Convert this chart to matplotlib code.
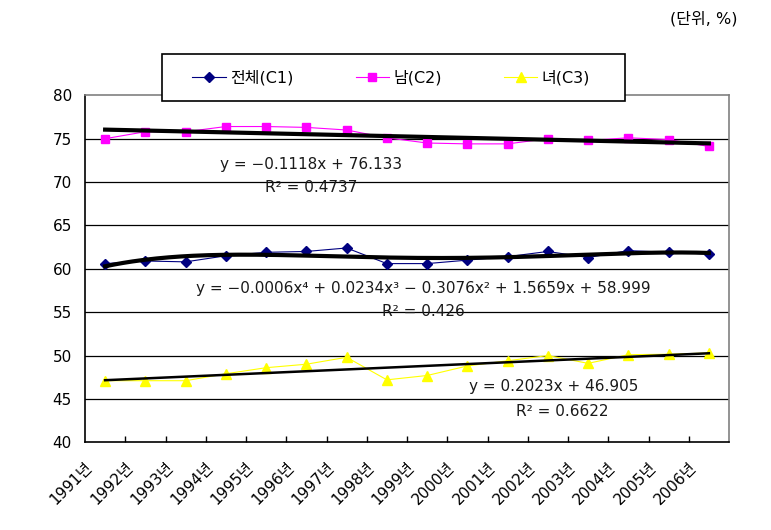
import numpy as np
import matplotlib
matplotlib.use('Agg')
import matplotlib.pyplot as plt
from matplotlib.patches import Rectangle
from matplotlib.transforms import ScaledTranslation

years = ['1991년', '1992년', '1993년', '1994년', '1995년', '1996년', '1997년', '1998년',
         '1999년', '2000년', '2001년', '2002년', '2003년', '2004년', '2005년', '2006년']
total_c1 = [60.6, 60.9, 60.8, 61.5, 61.9, 62.0, 62.4, 60.6,
            60.6, 61.0, 61.4, 62.0, 61.3, 62.1, 61.9, 61.7]
male_c2 = [75.0, 75.8, 75.8, 76.4, 76.4, 76.3, 76.0, 75.1,
           74.5, 74.4, 74.4, 75.0, 74.8, 75.1, 74.9, 74.1]
female_c3 = [47.1, 47.1, 47.1, 47.9, 48.6, 49.0, 49.8, 47.2,
             47.7, 48.8, 49.4, 50.0, 49.1, 50.1, 50.15, 50.3]
eq_c1 = 'y = \u22120.0006x\u2074 + 0.0234x\u00b3 \u2212 0.3076x\u00b2 + 1.5659x + 58.999'
r2_c1 = 'R\u00b2 = 0.426'
eq_c2 = 'y = \u22120.1118x + 76.133'
r2_c2 = 'R\u00b2 = 0.4737'
eq_c3 = 'y = 0.2023x + 46.905'
r2_c3 = 'R\u00b2 = 0.6622'

plt.rcParams['font.family'] = ['DejaVu Sans', 'Noto Sans CJK KR']

W, H = 771, 530
fig = plt.figure(figsize=(W / 100, H / 100), dpi=100)
ax = fig.add_axes([85 / W, 1 - 442.3 / H, (729 - 85) / W, (442.3 - 95.3) / H])

x = np.arange(1, len(years) + 1)

for v in [45, 50, 55, 60, 65, 70, 75]:
    ax.axhline(v, color='black', lw=0.9, zorder=1)

l1, = ax.plot(x, total_c1, color='#000080', lw=0.8, marker='D', ms=5, zorder=3)
l2, = ax.plot(x, male_c2, color='#FF00FF', lw=0.8, marker='s', ms=6, zorder=3)
l3, = ax.plot(x, female_c3, color='#FFFF00', lw=0.8, marker='^', ms=7, zorder=3)

# trend lines
xs = np.linspace(1, 16, 200)
ax.plot(xs, np.polyval(np.polyfit(x, total_c1, 4), xs), color='black', lw=3, zorder=4)
ax.plot(xs, np.polyval(np.polyfit(x, male_c2, 1), xs), color='black', lw=3, zorder=4)
ax.plot(xs, np.polyval(np.polyfit(x, female_c3, 1), xs), color='black', lw=1.8, zorder=4)

txt = dict(fontsize=11, color='#1a1a1a', ha='center', va='center', family='DejaVu Sans')
def put(px, py, s):
    fig.text(px / W, 1 - py / H, s, **txt)
put(311, 165, eq_c2)
put(311, 187, r2_c2)
put(423, 289, eq_c1)
put(423, 311, r2_c1)
put(554, 387, eq_c3)
put(562, 411, r2_c3)

ax.set_xlim(0.5, 16.5)
ax.set_ylim(40, 80)
ax.set_yticks(range(40, 81, 5))
ax.tick_params(axis='y', length=0, pad=9.5, labelsize=11)
ax.set_xticks(x)
ax.set_xticklabels(years, rotation=45, ha='right', rotation_mode='anchor', fontsize=11)
ax.set_xticks(np.arange(1.5, 16, 1), minor=True)
ax.tick_params(axis='x', which='major', length=0, pad=16)
ax.tick_params(axis='x', which='minor', direction='in', length=4, width=1, color='black')
shift = ScaledTranslation(-15 / 100, 0, fig.dpi_scale_trans)
for lab in ax.get_xticklabels():
    lab.set_va('center')
    lab.set_transform(lab.get_transform() + shift)

for s in ['left', 'bottom']:
    ax.spines[s].set_color('black')
    ax.spines[s].set_linewidth(1.2)
for s in ['top', 'right']:
    ax.spines[s].set_color('#808080')
    ax.spines[s].set_linewidth(1.2)

# legend
fig.patches.append(Rectangle((162 / W, 1 - 101 / H), (625 - 162) / W, (101 - 54) / H,
                             transform=fig.transFigure, facecolor='white',
                             edgecolor='black', lw=1.2, zorder=5))
leg = fig.legend([l1, l2, l3], ['전체(C1)', '남(C2)', '녀(C3)'],
                 loc='center left', bbox_to_anchor=(178 / W, 1 - 77.5 / H), ncol=3,
                 frameon=False, handlelength=2.1, handletextpad=0.25,
                 columnspacing=3.9, prop={'family': ['DejaVu Sans', 'Noto Sans CJK KR'], 'size': 11.5})
leg.set_zorder(6)

fig.text(737 / W, 1 - 19 / H, '(단위, %)', ha='right', va='center', fontsize=11.5,
         family=['DejaVu Sans', 'Noto Sans CJK KR'])

fig.savefig('out.png', dpi=100)
